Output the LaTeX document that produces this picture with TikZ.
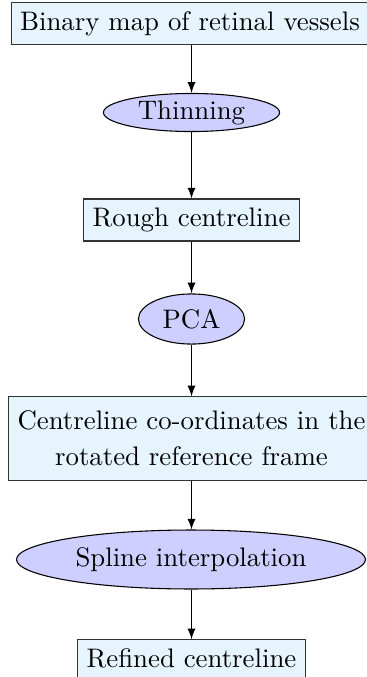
\documentclass[tikz,border=0pt]{standalone}
\usetikzlibrary{shapes.geometric,arrows}
\definecolor{boxfill}{RGB}{230,245,253}
\definecolor{ellfill}{RGB}{206,206,255}
\begin{document}
\begin{tikzpicture}[x=0.3731pt,y=-0.3731pt,
  procbox/.style={draw=black!80,fill=boxfill,rectangle,inner sep=3.33pt,font=\normalsize},
  opell/.style={draw=black,fill=ellfill,ellipse,inner sep=0pt},
  flow/.style={draw,-latex}]
\useasboundingbox (0,0) rectangle (367,677);
\node[procbox] (b1) at (190,23.5) {Binary map of retinal vessels};
\node[opell,minimum width=65.7pt,minimum height=14.2pt] (thin) at (191.5,112.5) {Thinning};
\node[procbox] (rough) at (191.5,220) {Rough centreline};
\node[opell,minimum width=39.6pt,minimum height=18.7pt] (pca) at (191.5,319) {PCA};
\node[procbox,align=center,minimum width=135.1pt,minimum height=31pt] (coord) at (191.5,438.5) {Centreline co-ordinates in the\\[1.5pt]rotated reference frame};
\node[opell,minimum width=130.2pt,minimum height=22pt] (spline) at (191,559.5) {Spline interpolation};
\node[procbox] (refined) at (191.5,658.5) {Refined centreline};
\draw[flow] (b1.south -| thin.north) -- (thin.north);
\draw[flow] (thin) -- (rough);
\draw[flow] (rough) -- (pca);
\draw[flow] (pca) -- (coord);
\draw[flow] (coord.south -| thin.north) -- (spline.north -| thin.north);
\draw[flow] (spline.south -| refined.north) -- (refined.north);
\end{tikzpicture}
\end{document}
